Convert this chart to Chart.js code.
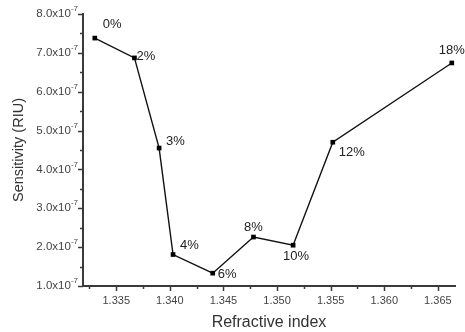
<!DOCTYPE html>
<html>
<head>
<meta charset="utf-8">
<script src="https://cdn.jsdelivr.net/npm/chart.js@4.4.1/dist/chart.umd.min.js"></script>
<style>
  html, body { margin: 0; padding: 0; background: #fff; }
  #wrap { width: 465px; height: 332px; position: relative; }
</style>
</head>
<body>
<div id="wrap"><canvas id="chart" width="465" height="332"></canvas></div>
<script>
// Sensitivity vs refractive index, one point per concentration
const CONCENTRATIONS = ["0%", "2%", "3%", "4%", "6%", "8%", "10%", "12%", "18%"];
const REFRACTIVE_INDEX = [1.3330, 1.3367, 1.3390, 1.3403, 1.3440, 1.3478, 1.3515, 1.3552, 1.3663];
const SENSITIVITY = [7.38e-7, 6.87e-7, 4.55e-7, 1.81e-7, 1.33e-7, 2.26e-7, 2.05e-7, 4.70e-7, 6.74e-7];

// Axis ticks
const X_MAJOR = [1.335, 1.340, 1.345, 1.350, 1.355, 1.360, 1.365];
const X_MINOR = [1.3325, 1.3375, 1.3425, 1.3475, 1.3525, 1.3575, 1.3625];
const Y_MAJOR = [1e-7, 2e-7, 3e-7, 4e-7, 5e-7, 6e-7, 7e-7, 8e-7];
const Y_MINOR = [1.5e-7, 2.5e-7, 3.5e-7, 4.5e-7, 5.5e-7, 6.5e-7, 7.5e-7];

// Where each concentration label sits relative to its marker: [dx, dy, align]
const LABEL_PLACEMENT = [
  [8, -14, "left"], [2, -1, "left"], [7, -7, "left"], [7, -9, "left"],
  [5, 1, "left"], [0, -10, "center"], [3, 11, "center"], [6, 10, "left"],
  [0, -13, "center"]
];

const FONT = "'Liberation Sans', Arial, Helvetica, sans-serif";
const AXIS_COLOR = "#3a3a3a";
const TICK_TEXT = "#444";

// Outward tick marks (major long, minor short) on both axes
const tickMarks = {
  id: "tickMarks",
  afterDraw(chart) {
    const { ctx, scales: { x, y }, chartArea } = chart;
    ctx.save();
    ctx.strokeStyle = AXIS_COLOR;
    ctx.lineWidth = 1.5;
    ctx.beginPath();
    X_MAJOR.forEach(v => {
      const px = Math.round(x.getPixelForValue(v)) + 0.5;
      ctx.moveTo(px, chartArea.bottom); ctx.lineTo(px, chartArea.bottom + 5);
    });
    X_MINOR.forEach(v => {
      const px = Math.round(x.getPixelForValue(v)) + 0.5;
      ctx.moveTo(px, chartArea.bottom); ctx.lineTo(px, chartArea.bottom + 3);
    });
    Y_MAJOR.forEach(v => {
      const py = Math.round(y.getPixelForValue(v)) + 0.5;
      ctx.moveTo(chartArea.left, py); ctx.lineTo(chartArea.left - 5, py);
    });
    Y_MINOR.forEach(v => {
      const py = Math.round(y.getPixelForValue(v)) + 0.5;
      ctx.moveTo(chartArea.left, py); ctx.lineTo(chartArea.left - 3, py);
    });
    ctx.stroke();

    // y tick labels written as mantissa x 10 with a raised exponent
    ctx.fillStyle = TICK_TEXT;
    ctx.textBaseline = "middle";
    Y_MAJOR.forEach(v => {
      const py = y.getPixelForValue(v);
      const right = chartArea.left - 5;
      ctx.font = "8px " + FONT;
      ctx.textAlign = "right";
      const exp = "-7";
      const ew = ctx.measureText(exp).width;
      ctx.fillText(exp, right, py - 5);
      ctx.font = "11.5px " + FONT;
      ctx.fillText((v / 1e-7).toFixed(1) + "x10", right - ew, py);
    });
    ctx.restore();
  }
};

// Concentration labels next to the markers
const pointLabels = {
  id: "pointLabels",
  afterDatasetsDraw(chart) {
    const { ctx, scales: { x, y } } = chart;
    ctx.save();
    ctx.font = "13px " + FONT;
    ctx.fillStyle = "#222";
    ctx.textBaseline = "middle";
    CONCENTRATIONS.forEach((label, i) => {
      const [dx, dy, align] = LABEL_PLACEMENT[i];
      ctx.textAlign = align;
      ctx.fillText(label,
        x.getPixelForValue(REFRACTIVE_INDEX[i]) + dx,
        y.getPixelForValue(SENSITIVITY[i]) + dy);
    });
    ctx.restore();
  }
};

new Chart(document.getElementById("chart"), {
  type: "scatter",
  data: {
    datasets: [{
      data: REFRACTIVE_INDEX.map((v, i) => ({ x: v, y: SENSITIVITY[i] })),
      showLine: true,
      borderColor: "#111",
      borderWidth: 1.4,
      pointStyle: "rect",
      pointRadius: 3.3,
      pointBackgroundColor: "#000",
      pointBorderWidth: 0,
      clip: false,
    }],
  },
  options: {
    responsive: false,
    animation: false,
    layout: { padding: { top: 14, right: 10, left: 0, bottom: 0 } },
    plugins: { legend: { display: false }, tooltip: { enabled: false } },
    scales: {
      x: {
        type: "linear",
        min: 1.3319,
        max: 1.3666,
        afterBuildTicks: s => { s.ticks = X_MAJOR.map(v => ({ value: v })); },
        afterFit: s => { s.height = 46; },
        grid: { display: false, drawTicks: false },
        border: { display: true, color: AXIS_COLOR, width: 2 },
        ticks: {
          padding: 8,
          maxRotation: 0,
          autoSkip: false,
          color: TICK_TEXT,
          font: { family: FONT, size: 11 },
          callback: v => v.toFixed(3),
        },
        title: {
          display: true,
          text: "Refractive index",
          color: "#333",
          font: { family: FONT, size: 16 },
          padding: { top: 0, bottom: 0 },
        },
      },
      y: {
        type: "linear",
        min: 1e-7,
        max: 8e-7,
        afterBuildTicks: s => { s.ticks = Y_MAJOR.map(v => ({ value: v })); },
        afterFit: s => { s.width = 83; },
        grid: { display: false, drawTicks: false },
        border: { display: true, color: AXIS_COLOR, width: 2 },
        ticks: { display: false },
        title: {
          display: true,
          text: "Sensitivity (RIU)",
          color: "#333",
          font: { family: FONT, size: 14.5 },
          padding: { top: 10, bottom: 0 },
        },
      },
    },
  },
  plugins: [tickMarks, pointLabels],
});
</script>
</body>
</html>
